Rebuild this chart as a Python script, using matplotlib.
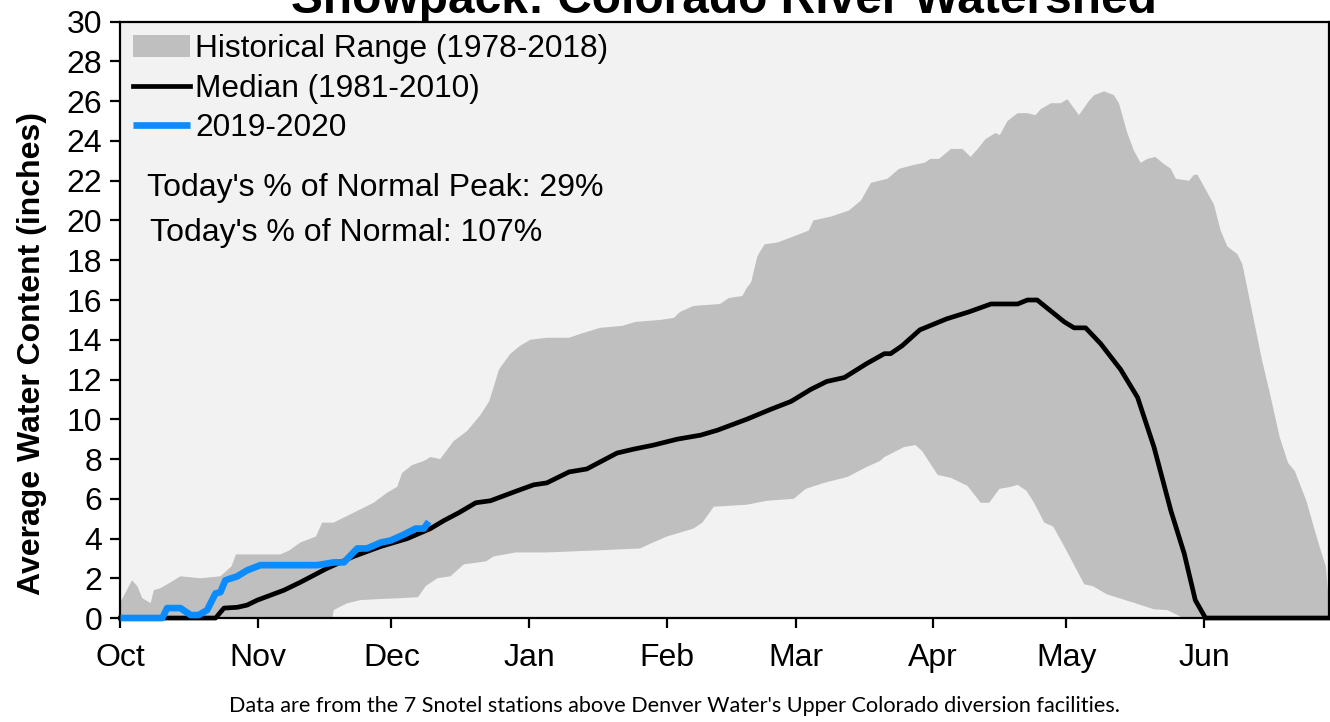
import numpy as np
import matplotlib
matplotlib.use("Agg")
import matplotlib.pyplot as plt

plt.rcParams["font.family"] = ["Liberation Sans", "DejaVu Sans"]

# day of water year (0 = Oct 1)
month_days = [0, 31, 61, 92, 123, 152, 183, 213, 244]
month_labels = ["Oct", "Nov", "Dec", "Jan", "Feb", "Mar", "Apr", "May", "Jun"]

upper_days = [0, 2.6, 3.8, 4.9, 6.8, 7.5, 9, 11.3, 13.5, 18, 22.5, 25, 26, 29, 36, 38,
              40.5, 44, 45.4, 48, 52.5, 57, 60, 62.3, 63.4, 65.7, 68.3, 69.8, 72, 75,
              78, 81, 83, 84, 85.2, 87.8, 90, 92.3, 96, 101, 103.6, 108, 113, 116,
              121.6, 124.6, 126, 129, 135, 137, 140, 141, 142, 143.4, 145, 148, 151.6,
              155, 156, 160, 164, 166.7, 169, 172.7, 175.3, 178.7, 181, 182.4, 184.3,
              187, 189.6, 191.4, 193, 194.8, 197, 198, 199.7, 202, 204.2, 206, 207.2,
              209.5, 211.7, 213.2, 215.8, 218, 219.2, 221.5, 223.7, 224.8, 226.7,
              228.2, 229.7, 231.2, 233, 234.6, 236.5, 237.6, 240.6, 241.7, 242.5,
              246.2, 247.7, 249.2, 251.5, 252.6, 254.9, 257, 258.8, 261, 262.9, 264.4,
              267, 269.3, 270.4, 271.4, 272]
upper_vals = [0.8, 1.9, 1.6, 1.0, 0.75, 1.4, 1.5, 1.8, 2.1, 2.0, 2.1, 2.6, 3.2, 3.2, 3.2, 3.4,
              3.8, 4.1, 4.8, 4.8, 5.3, 5.8, 6.3, 6.6, 7.3, 7.7, 7.9, 8.1, 8.0, 8.9,
              9.4, 10.2, 10.9, 11.6, 12.5, 13.3, 13.7, 14.0, 14.1, 14.1, 14.3, 14.6, 14.7, 14.9,
              15.0, 15.1, 15.4, 15.7, 15.8, 16.1, 16.2, 16.6, 16.9, 18.2, 18.8, 18.9, 19.2,
              19.5, 20.0, 20.2, 20.5, 21.0, 21.9, 22.1, 22.6, 22.8, 22.9, 23.1, 23.1,
              23.6, 23.6, 23.2, 23.6, 24.1, 24.4, 24.3, 25.0, 25.4, 25.4, 25.3, 25.6,
              25.9, 25.9, 26.1, 25.3, 26.0, 26.3, 26.5, 26.3, 25.9, 24.4,
              23.5, 22.9, 23.1, 23.2, 22.9, 22.6, 22.1, 22.0, 22.3, 22.3,
              20.8, 19.5, 18.7, 18.3, 17.8, 15.3, 13.0, 11.3, 9.1, 7.8, 7.4,
              5.9, 4.1, 3.3, 2.6, 1.0]

lower_days = [0, 47.7, 48, 51, 54, 57, 63, 67, 68.7, 71.3, 74.3, 77.3, 82.3, 84, 89, 96,
              107, 117, 119.4, 123, 126, 129, 131, 133.6, 141, 145.6, 151.6, 154.3,
              158.4, 163.7, 168, 171, 172, 176.4, 179, 180.5, 184, 187, 190.7, 193.7,
              195.6, 197.9, 200.5, 202, 204, 205.7, 208, 210, 212.5, 217, 219, 222,
              226.7, 232.7, 235.7, 238.4, 239, 272]
lower_vals = [0, 0, 0.4, 0.74, 0.9, 0.94, 1.0, 1.05, 1.6, 2.0, 2.1, 2.7, 2.85, 3.1, 3.3, 3.3,
              3.4, 3.5, 3.75, 4.1, 4.3, 4.5, 4.8, 5.6, 5.7, 5.9, 6.0, 6.5,
              6.8, 7.1, 7.6, 7.9, 8.1, 8.6, 8.7, 8.4, 7.2, 7.05, 6.65, 5.8,
              5.8, 6.5, 6.6, 6.7, 6.4, 5.8, 4.8, 4.6, 3.6, 1.7, 1.6, 1.2,
              0.87, 0.44, 0.4, 0.1, 0, 0]

median_days = [0, 21.4, 23.3, 26.3, 28.5, 30.8, 36.8, 40.5, 46.5, 52.5, 58.6, 64.6, 69.8,
               72.8, 76.2, 80, 83.3, 89.3, 93, 96, 101, 105, 111.8, 115.6, 120, 125.4,
               130.6, 134.4, 141, 146.4, 151, 155.4, 159, 163, 168, 172, 173.4, 176, 180,
               186, 191, 196, 202, 204.2, 206.4, 212.5, 214.7, 217.3, 220.7, 225.2, 229,
               232.7, 236.5, 239.5, 242, 244.3, 272]
median_vals = [0, 0, 0.5, 0.54, 0.65, 0.9, 1.4, 1.8, 2.5, 3.1, 3.6, 4.0, 4.5,
               4.9, 5.3, 5.8, 5.9, 6.4, 6.7, 6.8, 7.35, 7.5, 8.3, 8.5, 8.7, 9.0,
               9.2, 9.45, 10.0, 10.5, 10.9, 11.5, 11.9, 12.1, 12.8, 13.3, 13.3, 13.7, 14.5,
               15.05, 15.4, 15.8, 15.8, 16.0, 16.0, 14.9, 14.6, 14.6, 13.8, 12.5, 11.1,
               8.6, 5.4, 3.25, 0.9, 0, 0]

current_days = [0, 9.4, 10.5, 13.5, 15.8, 17.6, 19.5, 21.4, 22.5, 23.6, 26.3, 28.5, 31.5,
                44.3, 48, 50.3, 53.3, 55.5, 58.6, 60.8, 63.8, 66.4, 68.3, 69.4]
current_vals = [0, 0, 0.5, 0.5, 0.15, 0.15, 0.4, 1.24, 1.3, 1.9, 2.1, 2.4, 2.66,
                2.66, 2.8, 2.8, 3.5, 3.5, 3.8, 3.9, 4.2, 4.5, 4.5, 4.85]

pct_normal_peak = 29
pct_normal = 107

fig = plt.figure(figsize=(13.3, 7.22), dpi=100)
ax = fig.add_axes([0.0906, 0.144, 0.9083, 0.8259])
ax.set_facecolor("#f2f2f2")

poly_x = np.concatenate([upper_days, lower_days[::-1]])
poly_y = np.concatenate([upper_vals, lower_vals[::-1]])
ax.fill(poly_x, poly_y, color="#bfbfbf", lw=0, label="Historical Range (1978-2018)")
ax.plot(median_days, median_vals, color="black", lw=3.4, clip_on=False,
        solid_joinstyle="round", label="Median (1981-2010)", zorder=3)
ax.plot(current_days, current_vals, color="#0a8cff", lw=4.8, clip_on=False,
        solid_capstyle="butt", label="2019-2020", zorder=4)

ax.set_xlim(0, 272)
ax.set_ylim(0, 30)
ax.set_xticks(month_days)
ax.set_xticklabels(month_labels)
ax.set_yticks(np.arange(0, 31, 2))
ax.tick_params(axis="both", labelsize=23, width=1.6, length=7, direction="out")
ax.tick_params(axis="x", pad=11)
ax.tick_params(axis="y", pad=6)
for s in ax.spines.values():
    s.set_linewidth(1.6)

ax.set_ylabel("Average Water Content (inches)", fontsize=23, fontweight="bold")
ax.yaxis.set_label_coords(-0.073, 0.443)
ax.yaxis.label.set_verticalalignment("center")

leg = ax.legend(loc="upper left", frameon=False, fontsize=22.8, handlelength=1.8,
                handletextpad=0.15, labelspacing=0.3, borderaxespad=0.3,
                borderpad=0.1)

ax.text(0.022, 0.721, "Today's % of Normal Peak: {}%".format(pct_normal_peak),
        transform=ax.transAxes, fontsize=23, va="center", ha="left")
ax.text(0.0244, 0.6457, "Today's % of Normal: {}%".format(pct_normal),
        transform=ax.transAxes, fontsize=23, va="center", ha="left")

fig.text(0.544, 1 - 13 / 722, "Snowpack: Colorado River Watershed", fontsize=34.5,
         fontweight="bold", ha="center", va="baseline")
fig.text(0.5075, 1 - 706 / 722,
         "Data are from the 7 Snotel stations above Denver Water's Upper Colorado diversion facilities.",
         fontsize=15.6, family=["Lato", "DejaVu Sans"], ha="center", va="center")

fig.savefig("out.png", dpi=100)
